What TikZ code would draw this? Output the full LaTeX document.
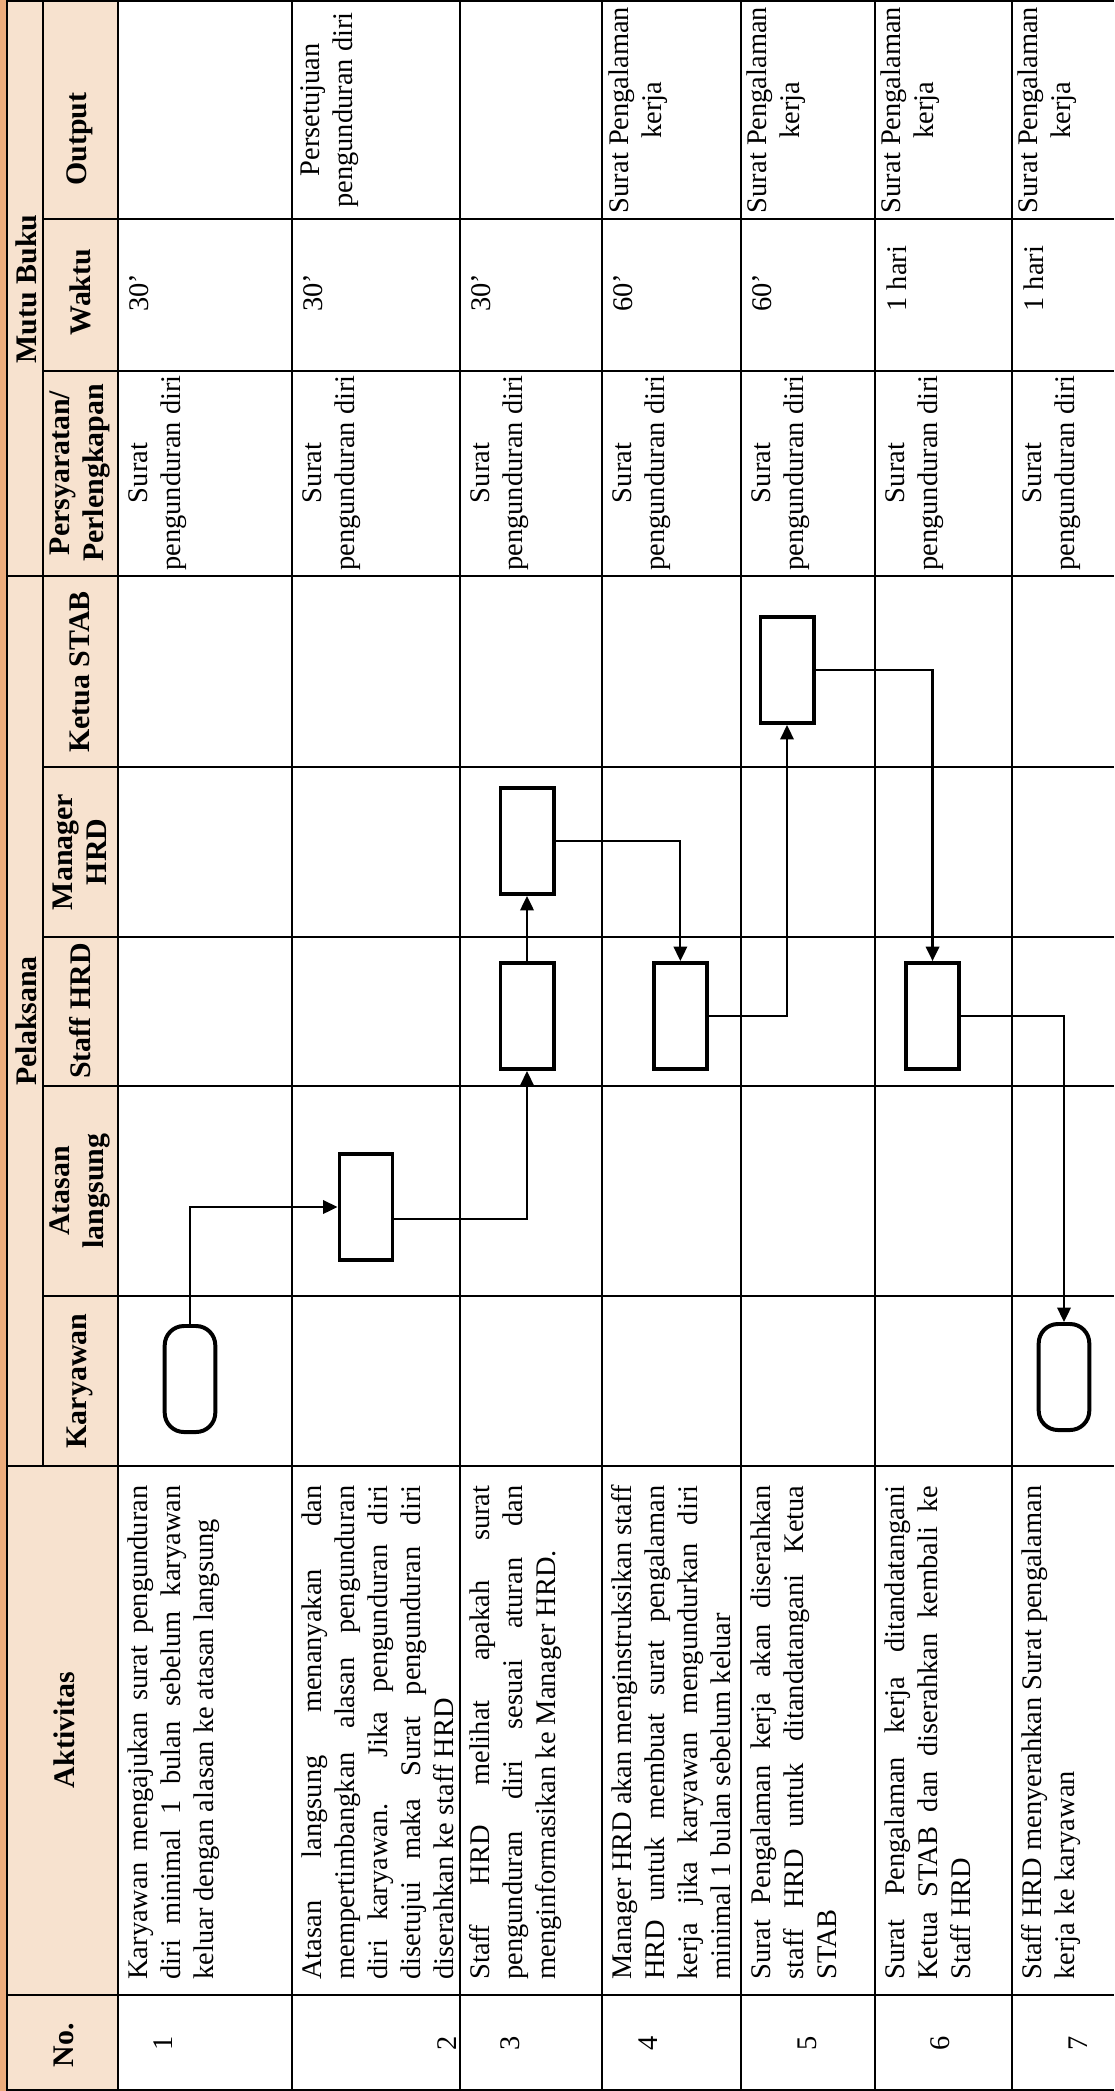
\documentclass[tikz,border=0pt]{standalone}
\usepackage{fontspec}
\setmainfont{Liberation Serif}
\usepackage{tikz}
\usetikzlibrary{arrows.meta,positioning}

\definecolor{HeadPeach}{RGB}{247,226,207}
\definecolor{ScanEdge}{RGB}{236,172,124}

\newcommand{\isifont}{\fontsize{11.8}{13.7}\selectfont}
\newcommand{\jl}[1]{\hbox to\hsize{\spaceskip=0.25em plus 1fil minus 0.08em\relax #1}\\}

\begin{document}
\begin{tikzpicture}[x=0.415pt,y=-0.415pt,>={Triangle[length=6pt,width=5.6pt]},
  garis/.style={line width=0.6pt},
  judul/.style={rotate=90,font=\fontsize{12.4}{14}\selectfont\bfseries,align=center,inner sep=0pt},
  isi/.style={rotate=90,font=\isifont,align=center,inner sep=0pt,anchor=north},
  waktu/.style={rotate=90,font=\isifont,inner sep=0pt,anchor=north west},
  aktivitas/.style={rotate=90,font=\isifont,text width=205pt,align=justify,inner sep=0pt,anchor=north west},
  nomor/.style={rotate=90,font=\isifont,inner sep=0pt},
  proses/.style={draw,line width=1.65pt,minimum width=22pt,minimum height=44pt,inner sep=0pt},
  terminal/.style={proses,minimum width=21pt,rounded corners=8pt},
  alur/.style={line width=0.9pt,->}]

\useasboundingbox (0,0) rectangle (1114,2091);

\fill[ScanEdge] (0,0) rectangle (7,2091);
\fill[HeadPeach] (7,0) rectangle (118,2091);

\draw[garis] (7,1) -- (1114,1)
             (7,2090) -- (1114,2090)
             (7,0) -- (7,2091)
             (43,0) -- (43,1466)
             (118,0) -- (118,2091)
             (292,0) -- (292,2091)
             (460,0) -- (460,2091)
             (602,0) -- (602,2091)
             (741,0) -- (741,2091)
             (875,0) -- (875,2091)
             (1012,0) -- (1012,2091);
\draw[garis] (43,219) -- (1114,219)
             (43,371) -- (1114,371)
             (7,576) -- (1114,576)
             (43,767) -- (1114,767)
             (43,937) -- (1114,937)
             (43,1086) -- (1114,1086)
             (43,1296) -- (1114,1296)
             (7,1466) -- (1114,1466)
             (7,1995) -- (1114,1995);

\node[judul] (hMutu)   at (26,289)  {Mutu Buku};
\node[judul] (hPel)    at (26,1021) {Pelaksana};
\node[judul] (hOut)    at (80,139)  {Output};
\node[judul] (hWaktu)  at (80,292)  {Waktu};
\node[judul] (hSyarat) at (80,473)  {Persyaratan/\\Perlengkapan};
\node[judul] (hKetua)  at (80,672)  {Ketua STAB};
\node[judul] (hMgr)    at (80,852)  {Manager\\HRD};
\node[judul] (hStaff)  at (80,1011) {Staff HRD};
\node[judul] (hAta)    at (80,1191) {Atasan\\langsung};
\node[judul] (hKar)    at (80,1381) {Karyawan};
\node[judul] (hAkt)    at (64,1730) {Aktivitas};
\node[judul] (hNo)     at (64,2045) {No.};

\node[nomor] (no1) at (163,2043)  {1};
\node[nomor] (no2) at (447,2043)  {2};
\node[nomor] (no3) at (510,2043)  {3};
\node[nomor] (no4) at (648,2043)  {4};
\node[nomor] (no5) at (807,2043)  {5};
\node[nomor] (no6) at (940,2043)  {6};
\node[nomor] (no7) at (1078,2043) {7};

\node[aktivitas] (akt1) at (127,1980) {\jl{Karyawan mengajukan surat pengunduran}\jl{diri minimal 1 bulan sebelum karyawan}keluar dengan alasan ke atasan langsung};
\node[aktivitas] (akt2) at (301,1980) {\jl{Atasan langsung menanyakan dan}\jl{mempertimbangkan alasan pengunduran}\jl{diri karyawan. Jika pengunduran diri}\jl{disetujui maka Surat pengunduran diri}diserahkan ke staff HRD};
\node[aktivitas] (akt3) at (469,1980) {\jl{Staff HRD melihat apakah surat}\jl{pengunduran diri sesuai aturan dan}menginformasikan ke Manager HRD.};
\node[aktivitas] (akt4) at (611,1980) {\jl{Manager HRD akan menginstruksikan staff}\jl{HRD untuk membuat surat pengalaman}\jl{kerja jika karyawan mengundurkan diri}minimal 1 bulan sebelum keluar};
\node[aktivitas] (akt5) at (750,1980) {\jl{Surat Pengalaman kerja akan diserahkan}\jl{staff HRD untuk ditandatangani Ketua}STAB};
\node[aktivitas] (akt6) at (884,1980) {\jl{Surat Pengalaman kerja ditandatangani}\jl{Ketua STAB dan diserahkan kembali ke}Staff HRD};
\node[aktivitas] (akt7) at (1021,1980) {\jl{Staff HRD menyerahkan Surat pengalaman}kerja ke karyawan};

\node[isi] (syarat1) at (128,473)  {Surat\\pengunduran diri};
\node[isi] (syarat2) at (302,473)  {Surat\\pengunduran diri};
\node[isi] (syarat3) at (470,473)  {Surat\\pengunduran diri};
\node[isi] (syarat4) at (612,473)  {Surat\\pengunduran diri};
\node[isi] (syarat5) at (751,473)  {Surat\\pengunduran diri};
\node[isi] (syarat6) at (885,473)  {Surat\\pengunduran diri};
\node[isi] (syarat7) at (1022,473) {Surat\\pengunduran diri};

\node[waktu] (waktu1) at (129,312)  {30’};
\node[waktu] (waktu2) at (303,312)  {30’};
\node[waktu] (waktu3) at (471,312)  {30’};
\node[waktu] (waktu4) at (613,312)  {60’};
\node[waktu] (waktu5) at (752,312)  {60’};
\node[waktu] (waktu6) at (886,312)  {1 hari};
\node[waktu] (waktu7) at (1023,312) {1 hari};

\node[isi] (out2) at (300,110)  {Persetujuan\\pengunduran diri};
\node[isi] (out4) at (608,110)  {Surat Pengalaman\\kerja};
\node[isi] (out5) at (746,110)  {Surat Pengalaman\\kerja};
\node[isi] (out6) at (880,110)  {Surat Pengalaman\\kerja};
\node[isi] (out7) at (1017,110) {Surat Pengalaman\\kerja};

\node[terminal] (kar1)   at (190,1379) {};
\node[proses]   (ata2)   at (366,1207) {};
\node[proses]   (staff3) at (527,1016) {};
\node[proses]   (mgr3)   [above=27pt of staff3] {};
\node[proses]   (staff4) [right=40pt of staff3] {};
\node[proses]   (ketua5) at (787,670)  {};
\node[proses]   (staff6) [right=81pt of staff4] {};
\node[terminal] (kar7)   at (1064,1377) {};

\draw[alur] (kar1.north) |- (ata2.west);
\draw[alur] ([yshift=-5pt]ata2.east) -| (staff3.south);
\draw[alur] (staff3.north) -- (mgr3.south);
\draw[alur] (mgr3.east) -| (staff4.north);
\draw[alur] (staff4.east) -| (ketua5.south);
\draw[alur] (ketua5.east) -| (staff6.north);
\draw[alur] (staff6.east) -| (kar7.north);

\end{tikzpicture}
\end{document}
